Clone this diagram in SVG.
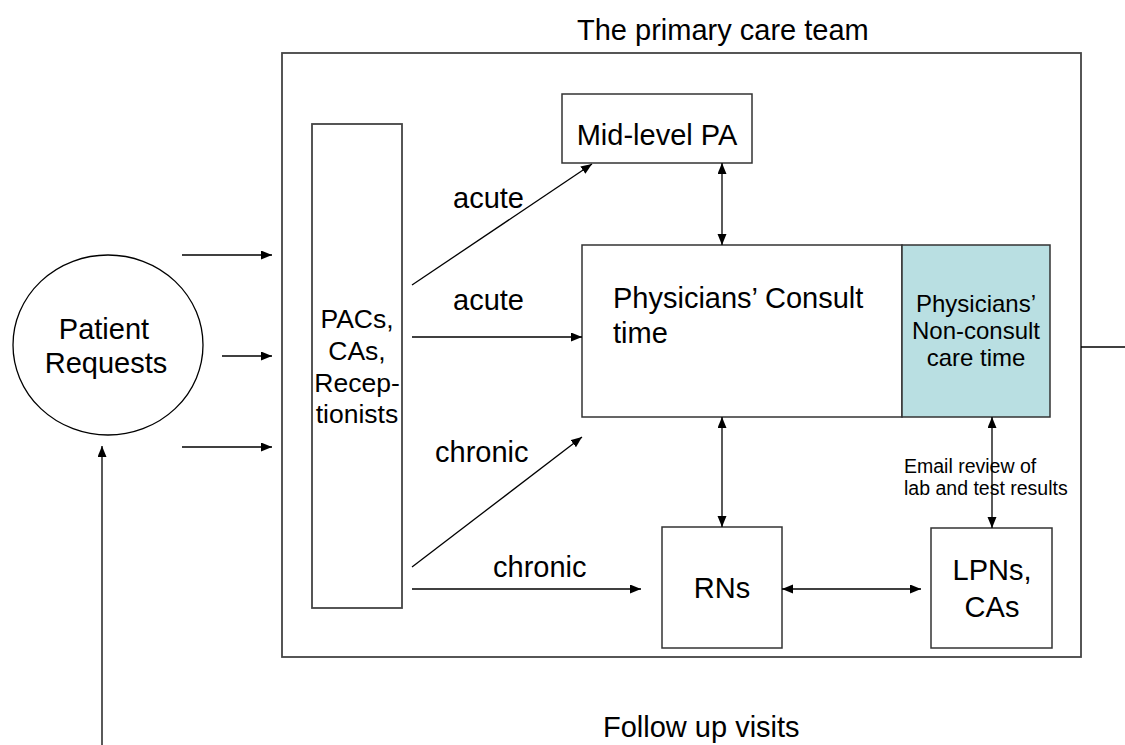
<svg xmlns="http://www.w3.org/2000/svg" width="1125" height="745" viewBox="0 0 1125 745">
<style>
text{font-family:"Liberation Sans",Arial,sans-serif;fill:#000}
.big{font-size:29px}
.mid{font-size:26.5px}
.nc{font-size:24px}
.sm{font-size:19.5px}
.box{fill:#fff;stroke:#333;stroke-width:1.5}
.frame{fill:none;stroke:#444;stroke-width:1.8}
.c{stroke:#000;stroke-width:1.3;fill:none}
</style>
<defs>
<marker id="ah" markerUnits="userSpaceOnUse" markerWidth="12" markerHeight="10" refX="11" refY="4.5" orient="auto-start-reverse">
<path d="M0,0 L11,4.5 L0,9 z" fill="#000"/>
</marker>
</defs>
<rect width="1125" height="745" fill="#fff"/>
<text class="big" x="577" y="40">The primary care team</text>
<text class="big" x="603" y="737">Follow up visits</text>
<g id="team-frame"><rect class="frame" x="282" y="53" width="799" height="604"/></g>
<g id="patient-requests">
<ellipse cx="108" cy="345" rx="95" ry="90" fill="#fff" stroke="#000" stroke-width="1.3"/>
<text class="big" x="104" y="339" text-anchor="middle">Patient</text>
<text class="big" x="106" y="373" text-anchor="middle">Requests</text>
</g>
<g id="pacs">
<rect class="frame" x="312" y="124" width="90" height="484"/>
<text class="mid" x="357" y="328" text-anchor="middle">PACs,</text>
<text class="mid" x="357" y="360" text-anchor="middle">CAs,</text>
<text class="mid" x="357" y="392" text-anchor="middle">Recep-</text>
<text class="mid" x="357" y="423" text-anchor="middle">tionists</text>
</g>
<g id="midlevel-pa">
<rect class="box" x="562" y="94" width="190" height="69"/>
<text class="big" x="657" y="145" text-anchor="middle">Mid-level PA</text>
</g>
<g id="physicians-consult">
<rect class="box" x="582" y="245" width="320" height="172"/>
<text class="big" x="613" y="308">Physicians’ Consult</text>
<text class="big" x="613" y="343">time</text>
</g>
<g id="physicians-nonconsult">
<rect x="902" y="245" width="148" height="172" fill="#b9dfe2" stroke="#333" stroke-width="1.5"/>
<text class="nc" x="976" y="312" text-anchor="middle">Physicians’</text>
<text class="nc" x="976" y="339" text-anchor="middle">Non-consult</text>
<text class="nc" x="976" y="366" text-anchor="middle">care time</text>
</g>
<g id="rns">
<rect class="box" x="662" y="527" width="120" height="121"/>
<text class="big" x="722" y="598" text-anchor="middle">RNs</text>
</g>
<g id="lpns">
<rect class="box" x="931" y="528" width="121" height="120"/>
<text class="big" x="992" y="580" text-anchor="middle">LPNs,</text>
<text class="big" x="992" y="617" text-anchor="middle">CAs</text>
</g>
<g id="connectors">
<line class="c" x1="182" y1="255" x2="272" y2="255" marker-end="url(#ah)"/>
<line class="c" x1="222" y1="356" x2="272" y2="356" marker-end="url(#ah)"/>
<line class="c" x1="182" y1="447" x2="272" y2="447" marker-end="url(#ah)"/>
<line class="c" x1="102" y1="745" x2="102" y2="446" marker-end="url(#ah)"/>
<line class="c" x1="412" y1="285" x2="592" y2="164" marker-end="url(#ah)"/>
<line class="c" x1="412" y1="337" x2="582" y2="337" marker-end="url(#ah)"/>
<line class="c" x1="412" y1="567" x2="582" y2="437" marker-end="url(#ah)"/>
<line class="c" x1="412" y1="589" x2="641" y2="589" marker-end="url(#ah)"/>
<line class="c" x1="722" y1="163" x2="722" y2="245" marker-start="url(#ah)" marker-end="url(#ah)"/>
<line class="c" x1="722" y1="417" x2="722" y2="527" marker-start="url(#ah)" marker-end="url(#ah)"/>
<line class="c" x1="782" y1="589" x2="921" y2="589" marker-start="url(#ah)" marker-end="url(#ah)"/>
<line class="c" x1="992" y1="417" x2="992" y2="528" marker-start="url(#ah)" marker-end="url(#ah)"/>
<line class="c" x1="1081" y1="347" x2="1125" y2="347"/>
<text class="big" x="453" y="208">acute</text>
<text class="big" x="453" y="310">acute</text>
<text class="big" x="435" y="462">chronic</text>
<text class="big" x="493" y="577">chronic</text>
<text class="sm" x="904" y="473">Email review of</text>
<text class="sm" x="904" y="495">lab and test results</text>
</g>
</svg>
